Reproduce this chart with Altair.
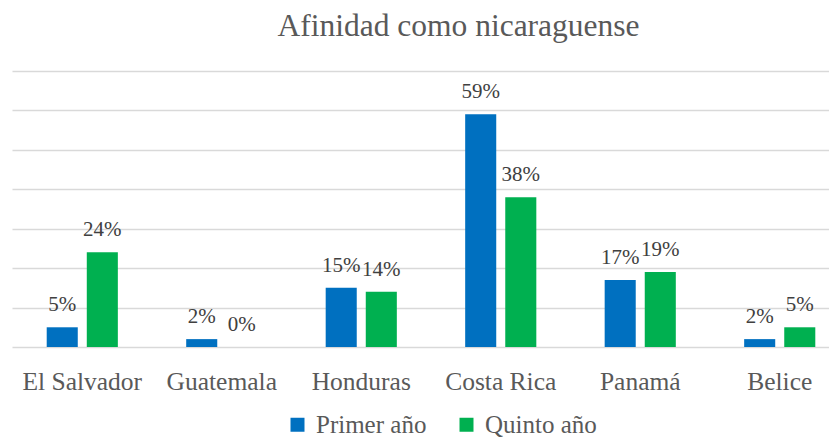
import altair as alt
import pandas as pd

paises = ["El Salvador", "Guatemala", "Honduras", "Costa Rica", "Panamá", "Belice"]
series = ["Primer año", "Quinto año"]
primer = [5, 2, 15, 59, 17, 2]
quinto = [24, 0, 14, 38, 19, 5]
colores = ["#0070C0", "#00B050"]

rows = []
for i, p in enumerate(paises):
    rows.append({"pais": p, "serie": series[0], "valor": primer[i], "label": f"{primer[i]}%"})
    rows.append({"pais": p, "serie": series[1], "valor": quinto[i], "label": f"{quinto[i]}%"})
df = pd.DataFrame(rows)

FONT = "Liberation Serif, serif"

x_axis = alt.Axis(
    title=None, labelAngle=0, labelFont=FONT, labelFontSize=25.5,
    labelColor="#595959", ticks=False, tickSize=0, domain=False,
    labelPadding=42, labelBaseline="alphabetic", grid=False,
)
y_axis = alt.Axis(
    title=None, labels=False, ticks=False, domain=False,
    values=[0, 10, 20, 30, 40, 50, 60, 70],
    gridColor="#D9D9D9", gridWidth=1.3,
)
x_scale = alt.Scale(paddingInner=0.49, paddingOuter=0.1735, align=0.717)
y_scale = alt.Scale(domain=[0, 70], nice=False)
off_scale = alt.Scale(paddingInner=0.225, paddingOuter=0)

bars = alt.Chart(df).mark_bar().encode(
    x=alt.X("pais:N", sort=paises, scale=x_scale, axis=x_axis),
    xOffset=alt.XOffset("serie:N", sort=series, scale=off_scale),
    y=alt.Y("valor:Q", scale=y_scale, axis=y_axis),
    color=alt.Color(
        "serie:N",
        sort=series,
        scale=alt.Scale(domain=series, range=colores),
        legend=alt.Legend(
            title=None, orient="none", legendX=273, legendY=341,
            direction="horizontal", symbolType="square", symbolSize=196,
            symbolStrokeWidth=0, labelFont=FONT, labelFontSize=25,
            labelColor="#595959", labelOffset=6, columnPadding=27,
        ),
    ),
)

labels = alt.Chart(df).mark_text(
    dy=-16, baseline="alphabetic", font=FONT, fontSize=21, color="#404040"
).encode(
    x=alt.X("pais:N", sort=paises, scale=x_scale, axis=x_axis),
    xOffset=alt.XOffset("serie:N", sort=series, scale=off_scale),
    y=alt.Y("valor:Q", scale=y_scale, axis=y_axis),
    text="label:N",
)

chart = alt.layer(bars, labels).properties(
    width=817,
    height=276,
    autosize=alt.AutoSizeParams(type="none"),
    padding={"left": 4, "top": 63, "right": 0, "bottom": 91},
    title=alt.TitleParams(
        "Afinidad como nicaraguense", anchor="middle", frame="group",
        baseline="alphabetic", offset=37, dx=38, dy=33, font=FONT, fontSize=31.5,
        fontWeight="normal", color="#595959",
    ),
).configure_view(stroke=None)

chart.save("out.html", embed_options={"renderer": "svg", "actions": False})
